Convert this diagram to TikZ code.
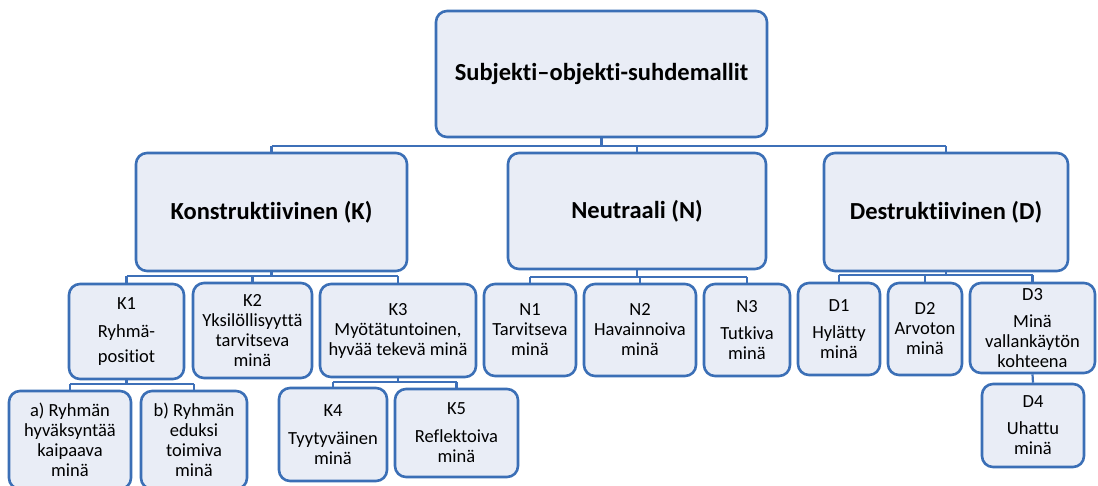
\documentclass[tikz,border=0pt]{standalone}
\usepackage{fontspec}
\setmainfont[Ligatures=NoCommon]{Carlito}
\definecolor{boxline}{HTML}{3B6FB6}
\definecolor{boxfill}{HTML}{E9EDF6}
\definecolor{connblue}{HTML}{3E70B8}
\begin{document}
\begin{tikzpicture}[x=1pt,y=-1pt,
  box/.style={draw=boxline, fill=boxfill, line width=2.6pt, rounded corners=11pt,
    inner sep=0pt, align=center, font=\fontsize{18.5}{20}\selectfont},
  head/.style={box, font=\bfseries\fontsize{24.5}{28}\selectfont},
  conn/.style={draw=connblue, line width=2.2pt}]
\useasboundingbox (0,0) rectangle (1098,485);
\fill[white] (0,0) rectangle (1098,485);
\clip (0,0) rectangle (1098,485);

% buses
\coordinate (topbus) at (0,146);
\coordinate (kbus) at (0,276);
\coordinate (nbus) at (0,277);
\coordinate (dbus) at (0,275);
\coordinate (k1bus) at (0,384);
\coordinate (k3bus) at (0,382);

% nodes
\node[head, minimum width=331pt, minimum height=126pt] (top) at (601.5,74) {Subjekti–objekti-suhdemallit};
\node[head, minimum width=271pt, minimum height=118pt] (k) at (271.5,212) {Konstruktiivinen (K)};
\node[head, minimum width=258pt, minimum height=116pt] (n) at (637,211) {Neutraali (N)};
\node[head, minimum width=244pt, minimum height=118pt] (d) at (946,212) {Destruktiivinen (D)};

\node[box, minimum width=115pt, minimum height=95pt] (k1) at (126.5,331.5) {K1\\[8pt]Ryhmä-\\[5pt]positiot};
\node[box, minimum width=119pt, minimum height=95pt] (k2) at (252.5,330.5) {K2\\Yksilöllisyyttä\\tarvitseva\\minä};
\node[box, minimum width=156pt, minimum height=93pt] (k3) at (398,330.5) {K3\\Myötätuntoinen,\\hyvää tekevä minä};
\node[box, minimum width=122pt, minimum height=98pt] (ka) at (70,440) {a) Ryhmän\\hyväksyntää\\kaipaava\\minä};
\node[box, minimum width=106pt, minimum height=98pt] (kb) at (194,440) {b) Ryhmän\\eduksi\\toimiva\\minä};
\node[box, minimum width=108pt, minimum height=93pt] (k4) at (333,434.5) {K4\\[8pt]Tyytyväinen\\minä};
\node[box, minimum width=123pt, minimum height=88pt] (k5) at (456.5,433) {K5\\[8pt]Reflektoiva\\minä};

\node[box, minimum width=92pt, minimum height=92pt] (n1) at (530,330) {N1\\Tarvitseva\\minä};
\node[box, minimum width=112pt, minimum height=92pt] (n2) at (640,330) {N2\\Havainnoiva\\minä};
\node[box, minimum width=86pt, minimum height=92pt] (n3) at (747,330) {N3\\[7pt]Tutkiva\\minä};

\node[box, minimum width=82pt, minimum height=92pt] (d1) at (839,329) {D1\\[7pt]Hylätty\\minä};
\node[box, minimum width=74pt, minimum height=92pt] (d2) at (925,329) {D2\\Arvoton\\minä};
\node[box, minimum width=125pt, minimum height=90pt] (d3) at (1032.5,328) {D3\\[7pt]Minä\\vallankäytön\\kohteena};
\node[box, minimum width=102pt, minimum height=83pt] (d4) at (1033,425.5) {D4\\[7pt]Uhattu\\minä};

% connectors: top level
\draw[conn] (top.south) -- (top.south |- topbus);
\draw[conn] (k.north |- topbus) -- (d.north |- topbus);
\draw[conn] (k.north) -- (k.north |- topbus);
\draw[conn] (n.north) -- (n.north |- topbus);
\draw[conn] (d.north) -- (d.north |- topbus);

% K children
\draw[conn] (k.south) -- (k.south |- kbus);
\draw[conn] (k1.north |- kbus) -- (k3.north |- kbus);
\draw[conn] (k1.north) -- (k1.north |- kbus);
\draw[conn] (k2.north) -- (k2.north |- kbus);
\draw[conn] (k3.north) -- (k3.north |- kbus);

% K1 children
\draw[conn] (k1.south) -- (k1.south |- k1bus);
\draw[conn] (ka.north |- k1bus) -- (kb.north |- k1bus);
\draw[conn] (ka.north) -- (ka.north |- k1bus);
\draw[conn] (kb.north) -- (kb.north |- k1bus);

% K3 children
\draw[conn] (k3.south) -- (k3.south |- k3bus);
\draw[conn] (k4.north |- k3bus) -- (k5.north |- k3bus);
\draw[conn] (k4.north) -- (k4.north |- k3bus);
\draw[conn] (k5.north) -- (k5.north |- k3bus);

% N children
\draw[conn] (n.south) -- (n.south |- nbus);
\draw[conn] (n1.north |- nbus) -- (n3.north |- nbus);
\draw[conn] (n1.north) -- (n1.north |- nbus);
\draw[conn] (n2.north) -- (n2.north |- nbus);
\draw[conn] (n3.north) -- (n3.north |- nbus);

% D children
\draw[conn] (d.south) -- (d.south |- dbus);
\draw[conn] (d1.north |- dbus) -- (d3.north |- dbus);
\draw[conn] (d1.north) -- (d1.north |- dbus);
\draw[conn] (d2.north) -- (d2.north |- dbus);
\draw[conn] (d3.north) -- (d3.north |- dbus);
\draw[conn] (d3.south) -- (d4.north);
\end{tikzpicture}
\end{document}
